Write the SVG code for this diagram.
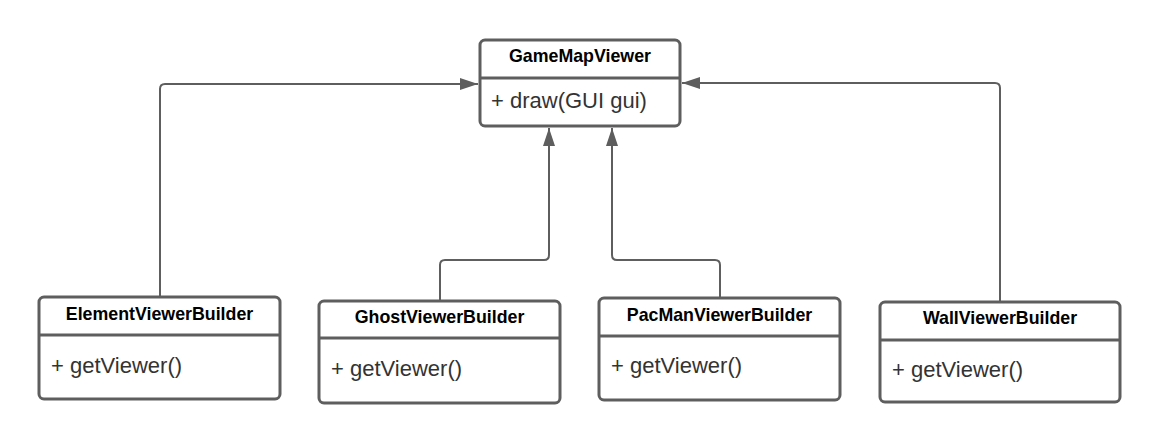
<svg xmlns="http://www.w3.org/2000/svg" width="1160" height="442" viewBox="0 0 1160 442">
  <defs>
    <style>
      .box { fill: #ffffff; stroke: #5e5e5e; stroke-width: 3; }
      .div { stroke: #5e5e5e; stroke-width: 3; }
      .title { font-family: "Liberation Sans", Arial, sans-serif; font-weight: bold; font-size: 17.8px; fill: #000000; text-anchor: middle; }
      .body { font-family: "Liberation Sans", Arial, sans-serif; font-size: 22px; fill: #333333; }
      .conn { fill: none; stroke: #5e5e5e; stroke-width: 2; marker-end: url(#arrow); }
    </style>
    <marker id="arrow" markerUnits="userSpaceOnUse" markerWidth="18" markerHeight="12" viewBox="0 0 18 12" refX="18" refY="6" orient="auto">
      <path d="M0,0 L18,6 L0,12 z" fill="#5e5e5e"/>
    </marker>
  </defs>
  <rect width="1160" height="442" fill="#ffffff"/>

  <g id="connectors">
    <path class="conn" d="M160,297 V89 Q160,84 165,84 H478"/>
    <path class="conn" d="M1000,302 V88 Q1000,83 995,83 H682"/>
    <path class="conn" d="M440,301 V265 Q440,260 445,260 H544 Q549,260 549,255 V128"/>
    <path class="conn" d="M720,298 V265 Q720,260 715,260 H617 Q612,260 612,255 V128"/>
  </g>

  <g id="GameMapViewer">
    <rect class="box" x="480" y="40" width="200" height="86" rx="5"/>
    <line class="div" x1="480" y1="78" x2="680" y2="78"/>
    <text class="title" x="580" y="62">GameMapViewer</text>
    <text class="body" x="491" y="108">+ draw(GUI gui)</text>
  </g>

  <g id="ElementViewerBuilder">
    <rect class="box" x="39" y="297" width="241" height="102" rx="5"/>
    <line class="div" x1="39" y1="335" x2="280" y2="335"/>
    <text class="title" x="159.5" y="320">ElementViewerBuilder</text>
    <text class="body" x="51" y="373">+ getViewer()</text>
  </g>

  <g id="GhostViewerBuilder">
    <rect class="box" x="319" y="301" width="241" height="102" rx="5"/>
    <line class="div" x1="319" y1="338" x2="560" y2="338"/>
    <text class="title" x="439.5" y="323">GhostViewerBuilder</text>
    <text class="body" x="331" y="376">+ getViewer()</text>
  </g>

  <g id="PacManViewerBuilder">
    <rect class="box" x="599" y="298" width="241" height="102" rx="5"/>
    <line class="div" x1="599" y1="336" x2="840" y2="336"/>
    <text class="title" x="719.5" y="321">PacManViewerBuilder</text>
    <text class="body" x="611" y="373">+ getViewer()</text>
  </g>

  <g id="WallViewerBuilder">
    <rect class="box" x="880" y="302" width="240" height="100" rx="5"/>
    <line class="div" x1="880" y1="340" x2="1120" y2="340"/>
    <text class="title" x="1000" y="324">WallViewerBuilder</text>
    <text class="body" x="892" y="377">+ getViewer()</text>
  </g>
</svg>
